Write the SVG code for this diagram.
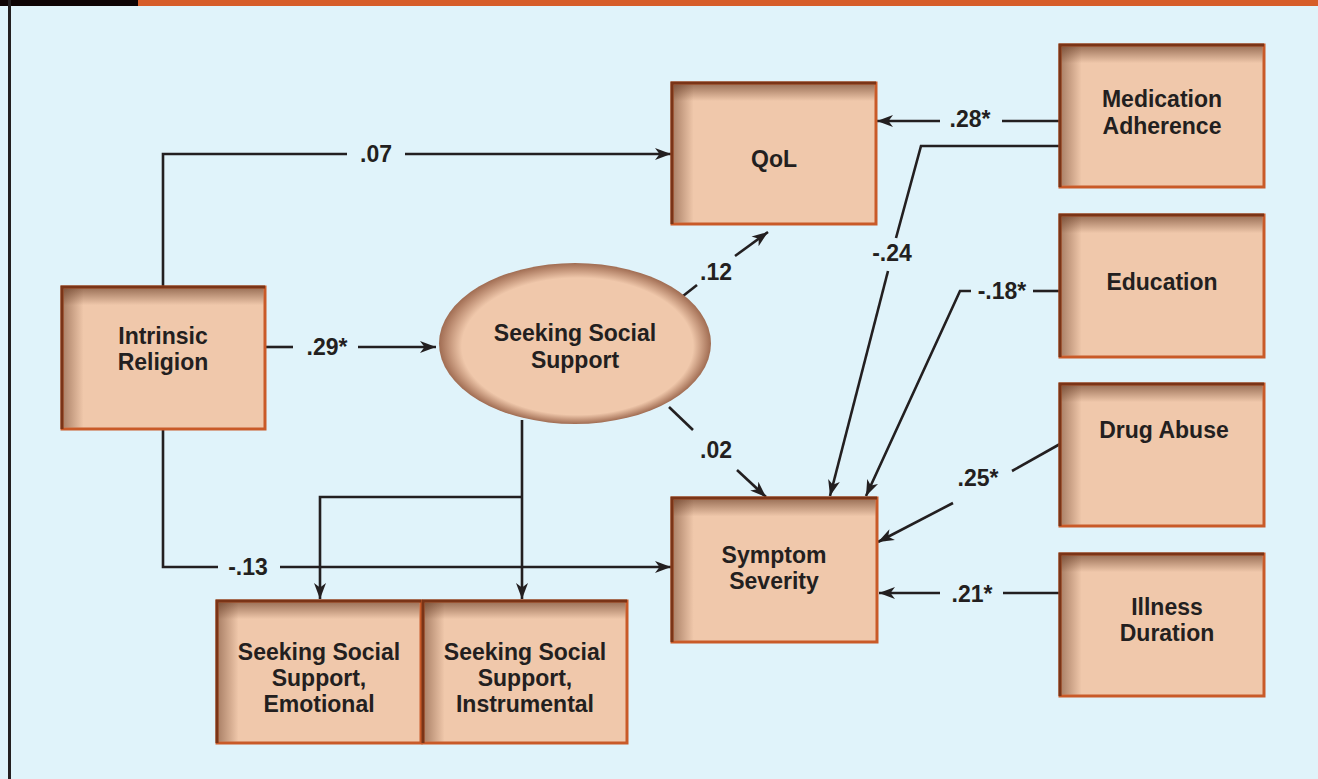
<svg xmlns="http://www.w3.org/2000/svg" width="1318" height="779" viewBox="0 0 1318 779">
<style>
.box{fill:#F0C8AB;stroke:#C95A28;stroke-width:3}
.edge{fill:none;stroke:#7A3417;stroke-width:3}
.sh-t{fill:url(#gTop)}
.sh-l{fill:url(#gLeft)}
.t{font-family:"Liberation Sans",Arial,sans-serif;font-weight:700;font-size:23px;fill:#231F20;text-anchor:middle}
.c{fill:none;stroke:#231F20;stroke-width:2.6}
.a{marker-end:url(#arr)}
</style>
<defs>
<linearGradient id="gTop" x1="0" y1="0" x2="0" y2="1">
<stop offset="0" stop-color="#5A2E18" stop-opacity="0.55"/>
<stop offset="0.12" stop-color="#5A2E18" stop-opacity="0"/>
</linearGradient>
<linearGradient id="gLeft" x1="0" y1="0" x2="1" y2="0">
<stop offset="0" stop-color="#5A2E18" stop-opacity="0.45"/>
<stop offset="0.1" stop-color="#5A2E18" stop-opacity="0"/>
</linearGradient>
<radialGradient id="gEll" cx="0.5" cy="0.5" r="0.5" fx="0.56" fy="0.62">
<stop offset="0" stop-color="#F0C8AB"/>
<stop offset="0.85" stop-color="#F0C8AB"/>
<stop offset="1" stop-color="#A06C52"/>
</radialGradient>
<marker id="arr" markerUnits="userSpaceOnUse" markerWidth="17" markerHeight="13" refX="16" refY="6.5" orient="auto">
<path d="M0,0.5 L16,6.5 L0,12.5 L4.5,6.5 z" fill="#231F20"/>
</marker>
</defs>
<rect x="0" y="0" width="1318" height="779" fill="#E0F3FA"/>
<rect x="138" y="0" width="1180" height="6" fill="#D65D29"/>
<rect x="0" y="0" width="138" height="6" fill="#0E0404"/>
<rect x="8" y="0" width="3" height="779" fill="#231F20"/>

<g id="connectors">
<polyline class="c" points="163,287 163,154 347,154"/>
<line class="c a" x1="405" y1="154" x2="671" y2="154"/>
<line class="c" x1="265" y1="347" x2="293" y2="347"/>
<line class="c a" x1="358" y1="347" x2="436" y2="347"/>
<line class="c" x1="683" y1="296" x2="697" y2="285"/>
<line class="c a" x1="735" y1="256" x2="768" y2="232"/>
<line class="c" x1="669" y1="407" x2="693" y2="430"/>
<line class="c a" x1="737" y1="470" x2="766" y2="497"/>
<polyline class="c" points="163,429 163,567 218,567"/>
<line class="c a" x1="280" y1="567" x2="671" y2="567"/>
<line class="c a" x1="522" y1="420" x2="522" y2="599"/>
<polyline class="c a" points="522,497 320,497 320,599"/>
<line class="c" x1="1060" y1="121" x2="1002" y2="121"/>
<line class="c a" x1="940" y1="121" x2="877" y2="121"/>
<polyline class="c" points="1060,146 921,146 896,238"/>
<line class="c a" x1="888" y1="271" x2="830" y2="496"/>
<line class="c" x1="1061" y1="291" x2="1033" y2="291"/>
<polyline class="c a" points="971,291 960,291 866,496"/>
<line class="c" x1="1060" y1="444" x2="1012" y2="471"/>
<line class="c a" x1="953" y1="503" x2="878" y2="542"/>
<line class="c" x1="1060" y1="593" x2="1003" y2="593"/>
<line class="c a" x1="940" y1="593" x2="879" y2="593"/>
<text class="t" x="376" y="162">.07</text>
<text class="t" x="327" y="355">.29*</text>
<text class="t" x="716" y="280">.12</text>
<text class="t" x="716" y="458">.02</text>
<text class="t" x="248" y="575">-.13</text>
<text class="t" x="970" y="127">.28*</text>
<text class="t" x="892" y="261">-.24</text>
<text class="t" x="1002" y="299">-.18*</text>
<text class="t" x="978" y="486">.25*</text>
<text class="t" x="972" y="602">.21*</text>
</g>

<g id="intrinsic-religion">
<rect class="box" x="62" y="287" width="203" height="142"/>
<rect class="sh-t" x="63.5" y="288.5" width="200" height="139"/>
<rect class="sh-l" x="63.5" y="288.5" width="200" height="139"/>
<polyline class="edge" points="62,429 62,287 265,287"/>
<text class="t" x="163" y="344">Intrinsic<tspan x="163" dy="26">Religion</tspan></text>
</g>

<g id="qol">
<rect class="box" x="672" y="83" width="204" height="141"/>
<rect class="sh-t" x="673.5" y="84.5" width="201" height="138"/>
<rect class="sh-l" x="673.5" y="84.5" width="201" height="138"/>
<polyline class="edge" points="672,224 672,83 876,83"/>
<text class="t" x="774" y="167">QoL</text>
</g>

<g id="seeking-social-support">
<ellipse cx="575" cy="343.5" rx="136" ry="80.5" fill="url(#gEll)"/>
<text class="t" x="575" y="341">Seeking Social<tspan x="575" dy="27">Support</tspan></text>
</g>

<g id="symptom-severity">
<rect class="box" x="672" y="498" width="205" height="144"/>
<rect class="sh-t" x="673.5" y="499.5" width="202" height="141"/>
<rect class="sh-l" x="673.5" y="499.5" width="202" height="141"/>
<polyline class="edge" points="672,642 672,498 877,498"/>
<text class="t" x="774" y="563">Symptom<tspan x="774" dy="26">Severity</tspan></text>
</g>

<g id="ss-emotional">
<rect class="box" x="217" y="601" width="204" height="142"/>
<rect class="sh-t" x="218.5" y="602.5" width="201" height="139"/>
<rect class="sh-l" x="218.5" y="602.5" width="201" height="139"/>
<polyline class="edge" points="217,743 217,601 421,601"/>
<text class="t" x="319" y="660">Seeking Social<tspan x="319" dy="26">Support,</tspan><tspan x="319" dy="26">Emotional</tspan></text>
</g>

<g id="ss-instrumental">
<rect class="box" x="423" y="601" width="204" height="142"/>
<rect class="sh-t" x="424.5" y="602.5" width="201" height="139"/>
<rect class="sh-l" x="424.5" y="602.5" width="201" height="139"/>
<polyline class="edge" points="423,743 423,601 627,601"/>
<text class="t" x="525" y="660">Seeking Social<tspan x="525" dy="26">Support,</tspan><tspan x="525" dy="26">Instrumental</tspan></text>
</g>

<g id="medication-adherence">
<rect class="box" x="1060" y="45" width="204" height="142"/>
<rect class="sh-t" x="1061.5" y="46.5" width="201" height="139"/>
<rect class="sh-l" x="1061.5" y="46.5" width="201" height="139"/>
<polyline class="edge" points="1060,187 1060,45 1264,45"/>
<text class="t" x="1162" y="107">Medication<tspan x="1162" dy="27">Adherence</tspan></text>
</g>

<g id="education">
<rect class="box" x="1060" y="215" width="204" height="142"/>
<rect class="sh-t" x="1061.5" y="216.5" width="201" height="139"/>
<rect class="sh-l" x="1061.5" y="216.5" width="201" height="139"/>
<polyline class="edge" points="1060,357 1060,215 1264,215"/>
<text class="t" x="1162" y="290">Education</text>
</g>

<g id="drug-abuse">
<rect class="box" x="1060" y="384" width="204" height="142"/>
<rect class="sh-t" x="1061.5" y="385.5" width="201" height="139"/>
<rect class="sh-l" x="1061.5" y="385.5" width="201" height="139"/>
<polyline class="edge" points="1060,526 1060,384 1264,384"/>
<text class="t" x="1164" y="438">Drug Abuse</text>
</g>

<g id="illness-duration">
<rect class="box" x="1060" y="554" width="204" height="142"/>
<rect class="sh-t" x="1061.5" y="555.5" width="201" height="139"/>
<rect class="sh-l" x="1061.5" y="555.5" width="201" height="139"/>
<polyline class="edge" points="1060,696 1060,554 1264,554"/>
<text class="t" x="1167" y="615">Illness<tspan x="1167" dy="26">Duration</tspan></text>
</g>
</svg>
